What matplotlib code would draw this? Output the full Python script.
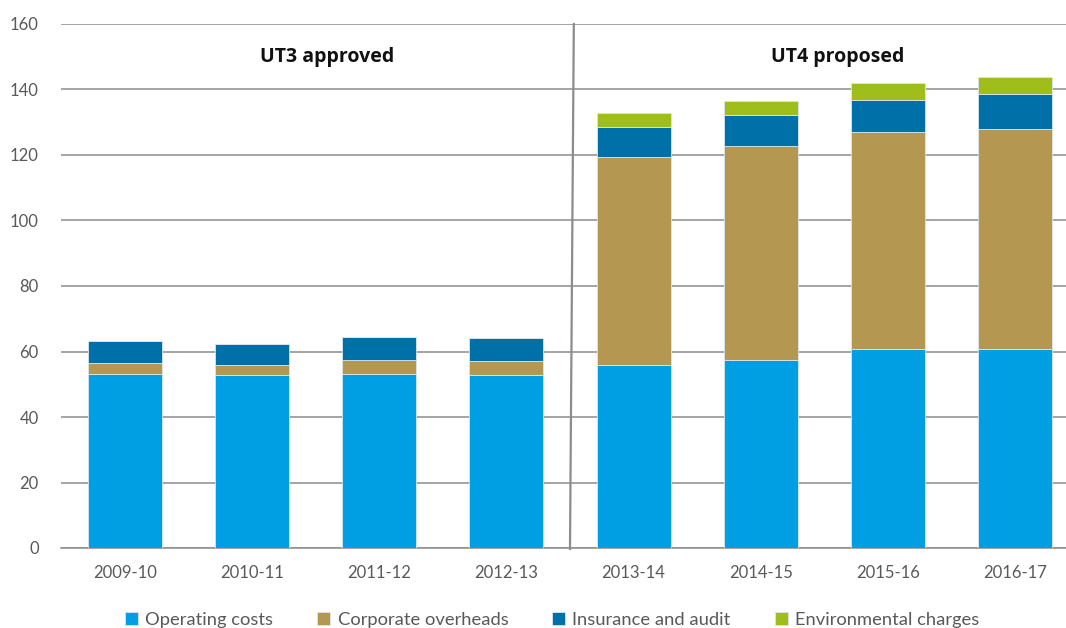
import matplotlib
matplotlib.use("Agg")
import matplotlib.pyplot as plt
import numpy as np

categories = ["2009-10", "2010-11", "2011-12", "2012-13", "2013-14", "2014-15", "2015-16", "2016-17"]
operating = [53.2, 52.8, 53.2, 52.8, 55.8, 57.4, 60.9, 60.9]
corporate = [3.2, 3.0, 4.1, 4.2, 63.7, 65.3, 66.2, 67.1]
insurance = [6.7, 6.6, 7.0, 7.0, 9.1, 9.5, 9.8, 10.5]
environmental = [0.0, 0.0, 0.0, 0.0, 4.2, 4.4, 5.1, 5.4]
series_names = ["Operating costs", "Corporate overheads", "Insurance and audit", "Environmental charges"]
colors = ["#009FE3", "#B49852", "#0070A8", "#9FBE1B"]
yticks = [0, 20, 40, 60, 80, 100, 120, 140, 160]

plt.rcParams['font.family'] = ['Lato', 'DejaVu Sans']

W, H = 1066, 628
fig = plt.figure(figsize=(W/100, H/100), dpi=100)
ax = fig.add_axes([61/W, 80/H, 1018/W, 524/H])

x = np.arange(len(categories))
bottom = np.zeros(len(categories))
handles = []
for vals, name, c in zip([operating, corporate, insurance, environmental], series_names, colors):
    v = np.array(vals)
    b = ax.bar(x, v, 0.58, bottom=bottom, color=c, edgecolor="#d9e6ee", linewidth=0.6, label=name, zorder=3)
    handles.append(b)
    bottom += v

ax.set_xlim(-0.5, len(categories) - 0.5)
ax.set_ylim(0, 160)
ax.set_yticks(yticks)
ax.yaxis.grid(True, color="#8c8c8c", linewidth=1.1, zorder=0)
ax.set_axisbelow(True)
for s in ["top", "right", "left"]:
    ax.spines[s].set_visible(False)
ax.spines["bottom"].set_color("#8c8c8c")
ax.spines["bottom"].set_linewidth(1.1)
ax.tick_params(axis="both", length=0, labelcolor="#595959", labelsize=12)
ax.tick_params(axis="y", pad=16)
ax.tick_params(axis="x", pad=12)
ax.set_xticks(x)
ax.set_xticklabels(categories)

# divider
ax.plot([3.53, 3.5], [160, -0.3], color="#8c8c8c", linewidth=1.6, zorder=4, clip_on=False)

ax.text(1.59, 150, "UT3 approved", ha="center", va="center", fontsize=14, fontweight="bold", color="#111111", family=["Open Sans", "DejaVu Sans"])
ax.text(5.6, 150, "UT4 proposed", ha="center", va="center", fontsize=14, fontweight="bold", color="#111111", family=["Open Sans", "DejaVu Sans"])

fig.legend(handles=handles, labels=series_names, loc="center", bbox_to_anchor=(0.518, 0.013),
           ncol=4, frameon=False, prop={"size": 13.2}, handlelength=0.7, handleheight=0.7,
           handletextpad=0.4, columnspacing=2.4, labelcolor="#595959")

fig.savefig("out.png", dpi=100)
